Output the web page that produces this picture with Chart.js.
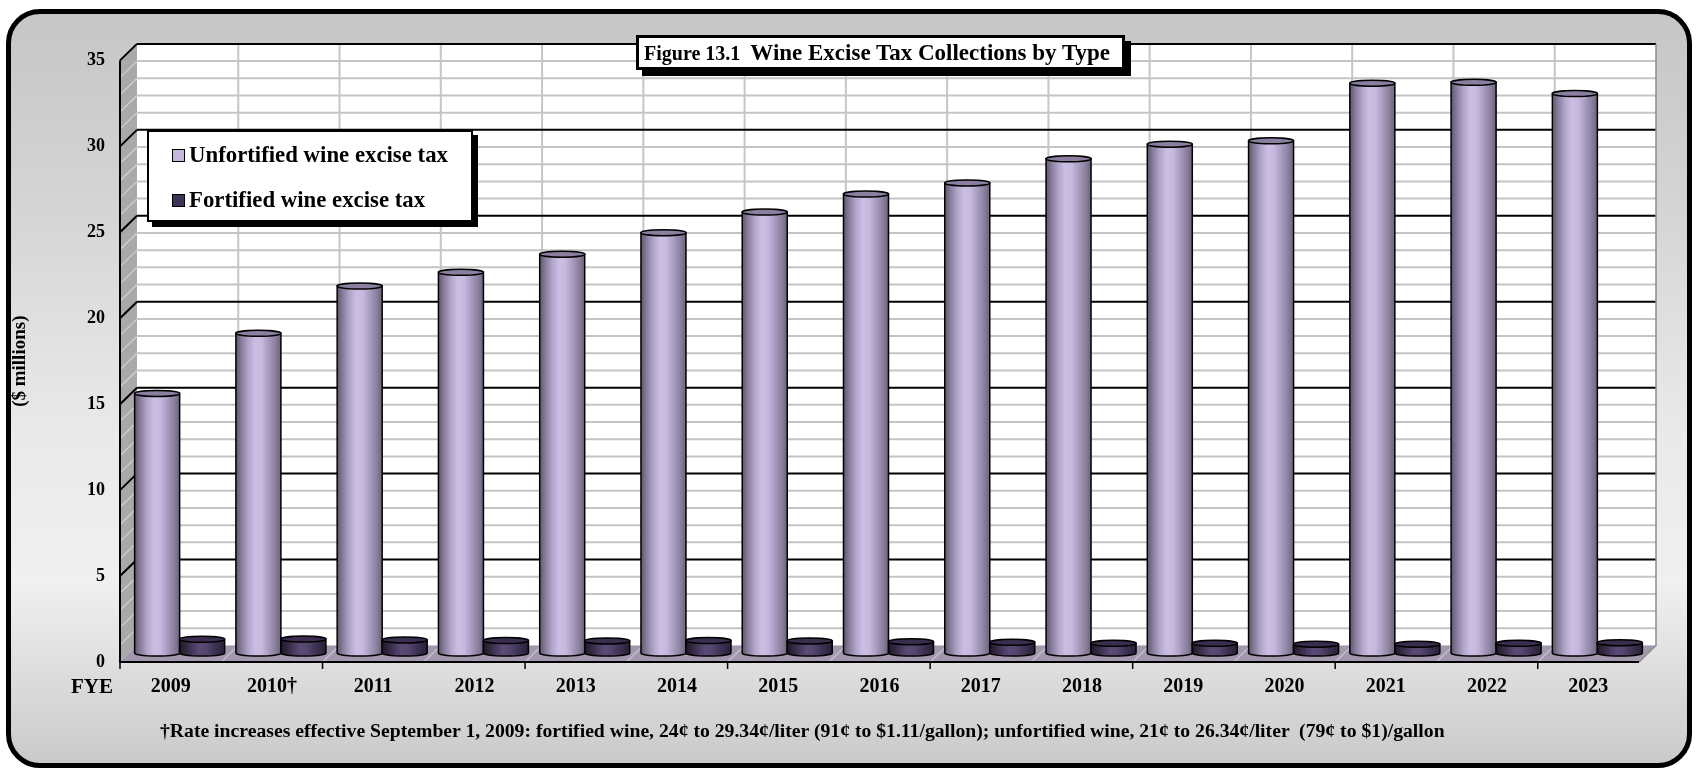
<!DOCTYPE html>
<html>
<head>
<meta charset="utf-8">
<title>Wine Excise Tax Collections by Type</title>
<script src="https://cdn.jsdelivr.net/npm/chart.js@4.4.1/dist/chart.umd.min.js"></script>
<style>
  html, body { margin: 0; padding: 0; background: #fff; }
  body { width: 1698px; height: 772px; position: relative; overflow: hidden;
         font-family: 'Liberation Serif', 'Times New Roman', serif; font-weight: bold; color: #000; }
  #frame { position: absolute; left: 6px; top: 9px; width: 1686px; height: 759px; box-sizing: border-box;
           border: 5px solid #000; border-radius: 34px;
           background: linear-gradient(#c6c6c6 0%, #d4d4d4 25%, #e9e9e9 55%, #f0f0f0 76%, #cacaca 100%); }
  #chart { position: absolute; left: 0; top: 0; }
  #title { position: absolute; left: 636px; top: 35px; width: 478px; height: 29px; box-sizing: content-box;
           border: 3px solid #000; background: #fff; box-shadow: 6px 6px 0 #000;
           white-space: pre; line-height: 29px; padding-left: 5px; }
  #title .fig { font-size: 20px; }
  #title .main { font-size: 23px; }
  #legend { position: absolute; left: 147px; top: 130px; width: 322px; height: 88px;
            border: 2px solid #000; background: #fff; box-shadow: 5px 5px 0 #000; }
  #legend .item { position: absolute; left: 23px; height: 26px; line-height: 26px; font-size: 22.8px; white-space: nowrap; }
  #legend .box { display: inline-block; width: 11px; height: 11px; border: 1.5px solid #000;
                 margin-right: 4px; vertical-align: 0px; }
  #fye { position: absolute; left: 71px; top: 674px; font-size: 21px; }
  #note { position: absolute; left: 160px; top: 719px; font-size: 19.7px; white-space: pre; }
</style>
</head>
<body>
<div id="frame"></div>
<canvas id="chart" width="1698" height="772"></canvas>
<div id="title"><span class="fig">Figure 13.1  </span><span class="main">Wine Excise Tax Collections by Type</span></div>
<div id="legend"></div>
<div id="fye">FYE</div>
<div id="note">†Rate increases effective September 1, 2009: fortified wine, 24¢ to 29.34¢/liter (91¢ to $1.11/gallon); unfortified wine, 21¢ to 26.34¢/liter  (79¢ to $1)/gallon</div>

<script>
// fiscal years and collections, $ millions
const years = ['2009', '2010†', '2011', '2012', '2013', '2014', '2015', '2016',
               '2017', '2018', '2019', '2020', '2021', '2022', '2023'];
const unfortified = [15.1, 18.6, 21.35, 22.15, 23.2, 24.45, 25.65, 26.7,
                     27.35, 28.75, 29.6, 29.8, 33.15, 33.2, 32.55];
const fortified = [0.8, 0.81, 0.76, 0.72, 0.7, 0.72, 0.7, 0.66,
                   0.62, 0.56, 0.56, 0.51, 0.51, 0.56, 0.6];
const seriesNames = ['Unfortified wine excise tax', 'Fortified wine excise tax'];
const yMax = 35;
const yStep = 5;
const yTitle = '($ millions)';

// cylinder shading, left edge to right edge
const shades = [
    ['#5f566f', '#8d82a2', '#b3a6cb', '#cbbde3', '#c6b8de', '#ab9ec2', '#8f84a2', '#6d637e'],
    ['#1f1829', '#33283f', '#47395f', '#5a4a76', '#56476f', '#45385c', '#362b49', '#272033']
];
const caps = ['#8a7f9e', '#3a2e4f'];
const legendColors = ['#c6b6de', '#3f3257'];

// offsets from the bar plane to the back wall and to the front edge
const BACK = { x: 8, y: -7.5 };
const FRONT = { x: -9, y: 9 };

const serif = 'Liberation Serif, Times New Roman, serif';

// back wall, side wall and floor with their grid lines
const wallsPlugin = {
    id: 'walls',
    beforeDatasetsDraw(chart) {
        const ctx = chart.ctx;
        const { left, right, top, bottom } = chart.chartArea;
        const xs = chart.scales.x;
        const ys = chart.scales.y;
        const step = xs.getPixelForValue(1) - xs.getPixelForValue(0);

        ctx.save();
        ctx.fillStyle = '#fff';
        ctx.fillRect(left + BACK.x, top + BACK.y, right - left, bottom - top);

        // side wall
        ctx.beginPath();
        ctx.moveTo(left + BACK.x, top + BACK.y);
        ctx.lineTo(left + BACK.x, bottom + BACK.y);
        ctx.lineTo(left + FRONT.x, bottom + FRONT.y);
        ctx.lineTo(left + FRONT.x, top + FRONT.y);
        ctx.closePath();
        ctx.fillStyle = '#a9a9a9';
        ctx.fill();

        // floor
        ctx.beginPath();
        ctx.moveTo(left + BACK.x, bottom + BACK.y);
        ctx.lineTo(right + BACK.x, bottom + BACK.y);
        ctx.lineTo(right + FRONT.x, bottom + FRONT.y);
        ctx.lineTo(left + FRONT.x, bottom + FRONT.y);
        ctx.closePath();
        ctx.fillStyle = '#a198ae';
        ctx.fill();

        // category dividers on back wall and floor
        for (let i = 1; i < years.length; i++) {
            const xb = xs.getPixelForValue(i) - step / 2;
            ctx.strokeStyle = '#c6c6c6';
            ctx.lineWidth = 2;
            ctx.beginPath();
            ctx.moveTo(xb + BACK.x, top + BACK.y);
            ctx.lineTo(xb + BACK.x, bottom + BACK.y);
            ctx.stroke();
            ctx.strokeStyle = '#c4bfcc';
            ctx.lineWidth = 1.5;
            ctx.beginPath();
            ctx.moveTo(xb + BACK.x, bottom + BACK.y);
            ctx.lineTo(xb + FRONT.x, bottom + FRONT.y);
            ctx.stroke();
        }

        // minor lines every 1, major lines every 5
        for (let v = 1; v <= yMax; v++) {
            const y = ys.getPixelForValue(v);
            const major = v % yStep === 0;
            ctx.strokeStyle = major ? '#000' : '#c4c4c4';
            ctx.lineWidth = 2;
            ctx.beginPath();
            ctx.moveTo(left + BACK.x, y + BACK.y);
            ctx.lineTo(right + BACK.x, y + BACK.y);
            ctx.stroke();
            ctx.strokeStyle = major ? '#000' : '#d2d2d2';
            ctx.lineWidth = major ? 2 : 1.2;
            ctx.beginPath();
            ctx.moveTo(left + FRONT.x, y + FRONT.y);
            ctx.lineTo(left + BACK.x, y + BACK.y);
            ctx.stroke();
        }

        // wall edges
        ctx.strokeStyle = '#8c8c8c';
        ctx.lineWidth = 1.5;
        ctx.beginPath();
        ctx.moveTo(right + BACK.x, top + BACK.y);
        ctx.lineTo(right + BACK.x, bottom + BACK.y);
        ctx.lineTo(right + FRONT.x, bottom + FRONT.y);
        ctx.stroke();

        ctx.strokeStyle = '#000';
        ctx.lineWidth = 2;
        ctx.beginPath();
        ctx.moveTo(left + FRONT.x, top + FRONT.y);
        ctx.lineTo(left + FRONT.x, bottom + FRONT.y);
        ctx.lineTo(right + FRONT.x, bottom + FRONT.y);
        ctx.stroke();

        // axis ticks every second category
        ctx.lineWidth = 1.5;
        for (let i = 0; i <= years.length; i += 2) {
            const xb = xs.getPixelForValue(0) - step / 2 + i * step + FRONT.x;
            ctx.beginPath();
            ctx.moveTo(xb, bottom + FRONT.y);
            ctx.lineTo(xb, bottom + FRONT.y + 7);
            ctx.stroke();
        }

        // axis title, centred on the front edge of the value axis
        ctx.fillStyle = '#000';
        ctx.font = `bold 19px ${serif}`;
        ctx.textAlign = 'center';
        ctx.textBaseline = 'middle';
        ctx.translate(20, (top + bottom) / 2 + FRONT.y);
        ctx.rotate(-Math.PI / 2);
        ctx.fillText(yTitle, 0, 0);
        ctx.restore();
    }
};

const drawCylinder = (ctx, bar, colors, capColor) => {
    const rx = bar.width / 2;
    const ry = 3;
    const x0 = bar.x - rx;
    const x1 = bar.x + rx;

    const grad = ctx.createLinearGradient(x0, 0, x1, 0);
    colors.forEach((c, i) => grad.addColorStop(i / (colors.length - 1), c));

    ctx.beginPath();
    ctx.moveTo(x0, bar.y);
    ctx.lineTo(x0, bar.base);
    ctx.ellipse(bar.x, bar.base, rx, ry, 0, Math.PI, 0, true);
    ctx.lineTo(x1, bar.y);
    ctx.closePath();
    ctx.fillStyle = grad;
    ctx.fill();
    ctx.strokeStyle = '#000';
    ctx.lineWidth = 1.5;
    ctx.stroke();

    ctx.beginPath();
    ctx.ellipse(bar.x, bar.y, rx, ry, 0, 0, Math.PI * 2);
    ctx.fillStyle = capColor;
    ctx.fill();
    ctx.stroke();
};

// bars are drawn as cylinders at the positions Chart.js computed
const cylinderPlugin = {
    id: 'cylinders',
    afterDatasetsDraw(chart) {
        const ctx = chart.ctx;
        const metas = [chart.getDatasetMeta(0), chart.getDatasetMeta(1)];
        ctx.save();
        years.forEach((y, i) => {
            metas.forEach((meta, d) => {
                drawCylinder(ctx, meta.data[i], shades[d], caps[d]);
            });
        });
        ctx.restore();
    }
};

const chart = new Chart(document.getElementById('chart'), {
    type: 'bar',
    data: {
        labels: years,
        datasets: [
            { label: seriesNames[0], data: unfortified, backgroundColor: 'rgba(0,0,0,0)', borderWidth: 0 },
            { label: seriesNames[1], data: fortified, backgroundColor: 'rgba(0,0,0,0)', borderWidth: 0 }
        ]
    },
    options: {
        responsive: false,
        animation: false,
        events: [],
        barThickness: 45,
        layout: { padding: { left: 10, right: 50, top: 51.4, bottom: 0 } },
        plugins: {
            legend: { display: false },
            tooltip: { enabled: false }
        },
        scales: {
            x: {
                grid: { display: false, drawTicks: false },
                border: { display: false },
                ticks: {
                    color: '#000',
                    font: { family: serif, size: 20, weight: 'bold' },
                    padding: 22,
                    labelOffset: FRONT.x,
                    autoSkip: false,
                    maxRotation: 0
                },
                afterFit: (scale) => { scale.height = 119; }
            },
            y: {
                min: 0,
                max: yMax,
                grid: { display: false, drawTicks: false },
                border: { display: false },
                ticks: {
                    stepSize: yStep,
                    color: '#000',
                    font: { family: serif, size: 18, weight: 'bold' },
                    padding: 24,
                    labelOffset: FRONT.y
                },
                afterFit: (scale) => { scale.width = 119; }
            }
        }
    },
    plugins: [wallsPlugin, cylinderPlugin]
});

// legend box built from the datasets
const legendBox = document.getElementById('legend');
chart.data.datasets.forEach((ds, i) => {
    const item = document.createElement('div');
    item.className = 'item';
    item.style.top = (10 + i * 45) + 'px';
    item.innerHTML = `<span class="box" style="background:${legendColors[i]}"></span>${ds.label}`;
    legendBox.appendChild(item);
});
</script>
</body>
</html>
